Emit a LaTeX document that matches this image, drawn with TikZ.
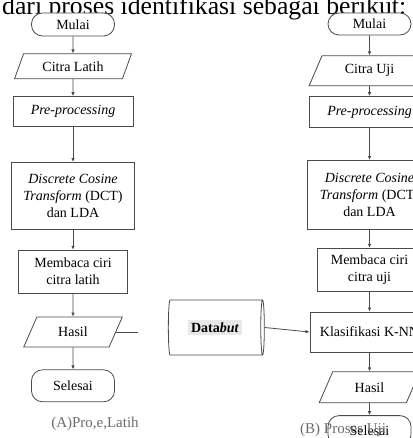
\documentclass[tikz,border=0pt]{standalone}
\usepackage{fontspec}
\setmainfont{Liberation Serif}
\usetikzlibrary{arrows.meta, positioning, shapes.geometric}
\definecolor{fcline}{HTML}{4A4A4A}
\definecolor{fccap}{HTML}{6B6B6B}
\definecolor{fcdb}{HTML}{E8E8E8}
\newcommand{\fcfont}{\fontsize{14}{17}\selectfont}

\begin{document}
\begin{tikzpicture}[x=1pt, y=-1pt,
    terminal/.style={rectangle, rounded corners=11pt, draw=fcline, fill=white,
                     minimum width=83pt, minimum height=#1, inner sep=1pt,
                     font=\fcfont, line width=0.8pt},
    io/.style={trapezium, trapezium left angle=64, trapezium right angle=116,
               trapezium stretches=true, draw=fcline, fill=white,
               minimum height=#1, inner sep=1pt, font=\fcfont, line width=0.8pt},
    process/.style={rectangle, draw=fcline, fill=white, align=center,
                    inner sep=1pt, font=\fcfont, line width=0.8pt},
    database/.style={cylinder, shape border rotate=0, aspect=0.2, draw=fcline,
                     minimum width=55pt, minimum height=96pt, inner sep=1pt,
                     font=\fcfont, line width=0.8pt},
    caption/.style={font=\fontsize{15}{17}\selectfont, text=fccap, inner sep=0pt},
    arrow/.style={-{Latex[length=4pt, width=3.5pt]}, line width=0.8pt, fcline},
    link/.style={line width=0.8pt, fcline}
  ]
    \useasboundingbox (0,0) rectangle (412,438);

    % text of the page above the figure
    \node[anchor=base west, inner sep=0pt, font=\fontsize{25.7}{28}\selectfont] (intro) at (2,15) {dari proses identifikasi sebagai berikut:};

    % (A) proses latih
    \node[terminal=23pt] (mulaiA) at (73,24.5) {Mulai};
    \node[io=25pt, minimum width=117pt, below=17pt of mulaiA] (citraA) {Citra Latih};
    \node[process, minimum width=120pt, minimum height=30pt, below=17pt of citraA] (preA) {\textit{Pre-processing}};
    \node[process, minimum width=123pt, minimum height=67pt, below=35pt of preA] (dctA) {\textit{Discrete Cosine}\\\textit{Transform} (DCT)\\dan LDA};
    \node[process, minimum width=109pt, minimum height=43pt, below=20pt of dctA] (membacaA) {Membaca ciri\\citra latih};
    \node[io=30pt, minimum width=99pt, below=23pt of membacaA] (hasilA) {Hasil};
    \node[terminal=32pt, below=22pt of hasilA] (selesaiA) {Selesai};
    \node[caption] (capA) at (95,424) {(A)Pro,e,Latih};

    % (B) proses uji
    \node[terminal=22pt] (mulaiB) at (369.5,24) {Mulai};
    \node[io=30pt, minimum width=121pt, below=20pt of mulaiB] (citraB) {Citra Uji};
    \node[process, minimum width=120pt, minimum height=31pt, below=10pt of citraB] (preB) {\textit{Pre-processing}};
    \node[process, minimum width=125pt, minimum height=69pt, below=32pt of preB] (dctB) {\textit{Discrete Cosine}\\\textit{Transform} (DCT)\\dan LDA};
    \node[process, minimum width=105pt, minimum height=43pt, below=18pt of dctB] (membacaB) {Membaca ciri\\citra uji};
    \node[process, minimum width=119pt, minimum height=40pt, below=20pt of membacaB] (klasB) {Klasifikasi K-NN};
    \node[io=31pt, minimum width=101pt, below=19pt of klasB] (hasilB) {Hasil};
    \node[terminal=30pt, below=12pt of hasilB] (selesaiB) {Selesai};
    \node[caption, anchor=west] (capB) at (300,430) {(B) Proses Uji};

    % database
    \node[database] (dbase) at (215,327.5) {\colorbox{fcdb}{\textbf{Data\textit{but}}}};
    \coordinate[right=22pt of hasilA.east] (stubA);

    \draw[arrow] (mulaiA) -- (citraA);
    \draw[arrow] (citraA) -- (preA);
    \draw[arrow] (preA) -- (dctA);
    \draw[arrow] (dctA) -- (membacaA);
    \draw[arrow] (membacaA) -- (hasilA);
    \draw[arrow] (hasilA) -- (selesaiA);
    \draw[link] (hasilA.east) -- (stubA);

    \draw[arrow] (mulaiB) -- (citraB);
    \draw[arrow] (citraB) -- (preB);
    \draw[arrow] (preB) -- (dctB);
    \draw[arrow] (dctB) -- (membacaB);
    \draw[arrow] (membacaB) -- (klasB);
    \draw[arrow] (klasB) -- (hasilB);
    \draw[arrow] (hasilB) -- (selesaiB);
    \draw[arrow] (dbase.east) -- (klasB.west);
  \end{tikzpicture}
\end{document}
